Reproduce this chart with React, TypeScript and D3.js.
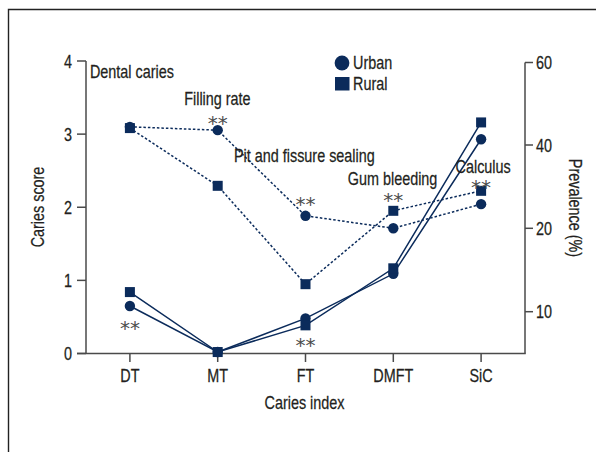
import React from "react";
import * as d3 from "d3";

const categories = ["DT", "MT", "FT", "DMFT", "SiC"];
const scoreUrban = [0.65, 0.02, 0.48, 1.09, 2.93];
const scoreRural = [0.84, 0.02, 0.385, 1.165, 3.16];
const prevalenceLabels = ["Dental caries", "Filling rate", "Pit and fissure sealing", "Gum bleeding", "Calculus"];
const prevUrban = [44.4, 43.6, 23.0, 20.0, 25.8];
const prevRural = [44.1, 30.2, 13.3, 24.2, 29.0];
const leftTicks = [0, 1, 2, 3, 4];
const rightTicks = [10, 20, 40, 60];

const W = 596, H = 452;
const NAVY = "#0b2b5b";
const AX = "#4a4a4a";
const TXT = "#231f20";
const FONT = "'Liberation Sans', Arial, sans-serif";
const FS = 18;
const SX = 0.8;

function T(props: { x: number; y: number; rot?: number; anchor?: string; children: any; fill?: string }) {
  const { x, y, rot = 0, anchor = "start", children, fill = TXT } = props;
  return (
    <text transform={`translate(${x},${y}) rotate(${rot}) scale(${SX},1)`} textAnchor={anchor as any} fill={fill}
      stroke={fill} strokeWidth={0.25}>
      {children}
    </text>
  );
}

export default function App() {
  const x = d3.scalePoint<string>().domain(categories).range([86, 525]).padding(0.5);
  const yL = d3.scaleLinear().domain([0, 4]).range([353.5, 61]);
  const yR = d3.scaleLinear().domain([5, 10, 20, 40, 60]).range([353.5, 311.7, 228.3, 145, 62.5]);

  const solidLine = d3.line<number>().x((_, i) => x(categories[i])!).y((v) => yL(v));
  const dashLine = d3.line<number>().x((_, i) => x(categories[i])!).y((v) => yR(v));

  const circle = (cx: number, cy: number, r: number, k: string) => (
    <circle key={k} cx={cx} cy={cy} r={r} fill={NAVY} />
  );
  const square = (cx: number, cy: number, s: number, k: string) => (
    <rect key={k} x={cx - s / 2} y={cy - s / 2} width={s} height={s} fill={NAVY} />
  );

  const labelPos = [
    { dx: -40, y: 78 },
    { dx: -33.5, y: 104.7 },
    { dx: -71.5, y: 161.5 },
    { dx: -45.5, y: 185 },
    { dx: -25.5, y: 173 },
  ];

  const stars = [
    { i: 0, y: yL(scoreUrban[0]) + 17 },
    { i: 1, y: yR(prevUrban[1]) - 13 },
    { i: 2, y: yR(prevUrban[2]) - 17 },
    { i: 2, y: yL(scoreRural[2]) + 14 },
    { i: 3, y: yR(prevRural[3]) - 16 },
    { i: 4, y: yR(prevRural[4]) - 9 },
  ];

  return (
    <svg width={W} height={H} style={{ position: "absolute", left: 0, top: 0, background: "#fff" }}
      fontFamily={FONT} fontSize={FS}>
      <rect x={0} y={0} width={W} height={H} fill="#fff" />
      <path d={`M8.5,${H} V9.5 H${W}`} fill="none" stroke="#222" strokeWidth={1.4} />

      {/* left axis */}
      <line x1={86} x2={86} y1={yL(4)} y2={yL(0)} stroke={AX} strokeWidth={1.5} />
      {leftTicks.map((t) => (
        <g key={"lt" + t}>
          <line x1={77} x2={86} y1={yL(t)} y2={yL(t)} stroke={AX} strokeWidth={1.5} />
          <T x={72} y={yL(t) + 6.5} anchor="end">{t}</T>
        </g>
      ))}
      {/* right axis */}
      <line x1={525} x2={525} y1={yR(60)} y2={yR(5)} stroke={AX} strokeWidth={1.5} />
      {rightTicks.map((t) => (
        <g key={"rt" + t}>
          <line x1={525} x2={533} y1={yR(t)} y2={yR(t)} stroke={AX} strokeWidth={1.5} />
          <T x={536} y={yR(t) + 6.5}>{t}</T>
        </g>
      ))}
      {/* bottom axis */}
      <line x1={77} x2={525.75} y1={353.5} y2={353.5} stroke={AX} strokeWidth={1.5} />
      {categories.map((c) => (
        <g key={"bt" + c}>
          <line x1={x(c)!} x2={x(c)!} y1={353.5} y2={362} stroke={AX} strokeWidth={1.5} />
          <T x={x(c)!} y={381.5} anchor="middle">{c}</T>
        </g>
      ))}

      {/* axis titles */}
      <T x={304.5} y={409} anchor="middle">Caries index</T>
      <T x={43.5} y={207} rot={-90} anchor="middle">Caries score</T>
      <T x={568.5} y={208} rot={90} anchor="middle">Prevalence (%)</T>

      {/* lines */}
      <path d={solidLine(scoreUrban)!} fill="none" stroke={NAVY} strokeWidth={1.5} />
      <path d={solidLine(scoreRural)!} fill="none" stroke={NAVY} strokeWidth={1.5} />
      <path d={dashLine(prevUrban)!} fill="none" stroke={NAVY} strokeWidth={1.5} strokeDasharray="2.5,2" />
      <path d={dashLine(prevRural)!} fill="none" stroke={NAVY} strokeWidth={1.5} strokeDasharray="2.5,2" />

      {/* markers */}
      {scoreUrban.map((v, i) => circle(x(categories[i])!, yL(v), 5.2, "su" + i))}
      {scoreRural.map((v, i) => square(x(categories[i])!, yL(v), 10, "sr" + i))}
      {prevUrban.map((v, i) => circle(x(categories[i])!, yR(v), 5.2, "pu" + i))}
      {prevRural.map((v, i) => square(x(categories[i])!, yR(v), 10, "pr" + i))}

      {/* prevalence labels */}
      {prevalenceLabels.map((l, i) => (
        <T key={"lab" + i} x={x(categories[i])! + labelPos[i].dx} y={labelPos[i].y}>{l}</T>
      ))}

      {/* significance stars */}
      {stars.map((s, k) => (
        <text key={"st" + k} x={x(categories[s.i])!} y={s.y + 12.5} textAnchor="middle"
          fontFamily="'DejaVu Sans', sans-serif" fontSize={20} fill="#4d4d4d" letterSpacing={0}>**</text>
      ))}

      {/* legend */}
      <circle cx={342} cy={63} r={7.4} fill={NAVY} />
      <T x={353} y={69}>Urban</T>
      <rect x={335} y={77} width={14.5} height={13.5} fill={NAVY} />
      <T x={353} y={89.5}>Rural</T>
    </svg>
  );
}
